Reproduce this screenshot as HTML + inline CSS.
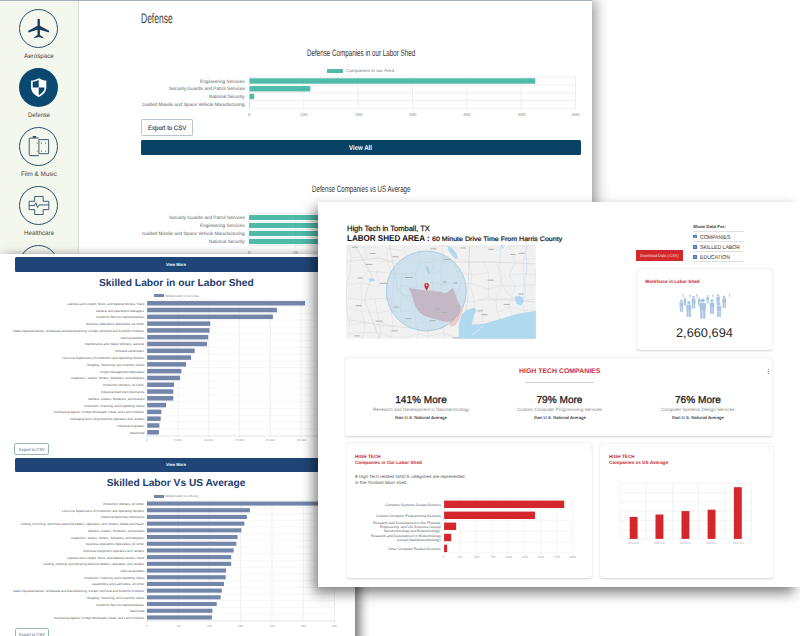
<!DOCTYPE html><html><head><meta charset="utf-8"><style>
*{margin:0;padding:0;box-sizing:border-box}
html,body{width:800px;height:636px;overflow:hidden;background:#fff;font-family:"Liberation Sans",sans-serif}
.ab{position:absolute}
.t{position:absolute;white-space:nowrap;line-height:1;text-rendering:geometricPrecision;opacity:0.995}
.shot{position:absolute;background:#fff;overflow:hidden}
.cond{display:inline-block;transform-origin:0 0}
.lbl{position:absolute;white-space:nowrap;line-height:1;text-align:right;color:#666}
</style></head><body>
<div class="shot" style="left:0;top:0;width:592px;height:420px;box-shadow:4px 0 12px rgba(0,0,0,0.4)"><div class="ab" style="left:0;top:0;width:592px;height:1px;background:#a3b0bb;z-index:2"></div><div class="ab" style="left:0;top:0;width:79px;height:420px;background:#f4f7ee;border-right:1px solid #dcddd5"></div><div class="ab" style="left:19.200000000000003px;top:8.8px;width:39px;height:39px;border-radius:50%;border:1px solid #2d4d6b"></div><div class="ab" style="left:19.200000000000003px;top:67.9px;width:39px;height:39px;border-radius:50%;background:#0b4870"></div><div class="ab" style="left:19.200000000000003px;top:126.9px;width:39px;height:39px;border-radius:50%;border:1px solid #2d4d6b"></div><div class="ab" style="left:19.200000000000003px;top:186.0px;width:39px;height:39px;border-radius:50%;border:1px solid #2d4d6b"></div><div class="ab" style="left:19.200000000000003px;top:245.10000000000002px;width:39px;height:39px;border-radius:50%;border:1px solid #2d4d6b"></div><div class="t" style="left:24.02px;top:53.55px;font-size:10px;color:#444;transform:scale(0.6223,0.6400);transform-origin:0 0;">Aerospace</div><div class="t" style="left:28.00px;top:112.80px;font-size:10px;color:#444;transform:scale(0.5907,0.6400);transform-origin:0 0;">Defense</div><div class="t" style="left:21.10px;top:171.75px;font-size:10px;color:#444;transform:scale(0.6257,0.6400);transform-origin:0 0;">Film &amp; Music</div><div class="t" style="left:23.80px;top:230.65px;font-size:10px;color:#444;transform:scale(0.6225,0.6400);transform-origin:0 0;">Healthcare</div><svg class="ab" style="left:0;top:0" width="80" height="260" viewBox="0 0 80 260">
<path fill="#1d3d5c" d="M38.7,18.8 c0.9,0 1.2,0.8 1.2,1.5 v5.5 l9.2,4.9 v1.7 l-9.2,-2.6 v5.2 l3.3,2.2 v1.1 l-4.5,-1.2 l-4.5,1.2 v-1.1 l3.3,-2.2 v-5.2 l-9.2,2.6 v-1.7 l9.2,-4.9 v-5.5 c0,-0.7 0.3,-1.5 1.2,-1.5 z"/>
<g>
<path d="M38.7 78.2 c3 1.6 5.5 2.3 7.6 2.3 v7 c0 4.5 -3.3 7.6 -7.6 9.5 c-4.3 -1.9 -7.6 -5 -7.6 -9.5 v-7 c2.1 0 4.6 -0.7 7.6 -2.3z" fill="#fff"/>
<path d="M38.7 80 v7.6 h-6 v-5.8 c2 -0.3 4 -0.9 6 -1.8z M38.7 87.6 h6 c-0.3 3.6 -2.8 6 -6 7.6z" fill="#0b4870"/>
</g>
<g fill="none" stroke="#2d4d6b" stroke-width="0.9">
<path d="M38.9,155.5 h-8.9 a0.8,0.8 0 0 1 -0.8,-0.8 v-15.8 a0.8,0.8 0 0 1 0.8,-0.8 h8.9"/>
<path d="M38.9,139.6 h9.7 v14.1 h-9.7 z"/>
</g>
<path d="M29.6,156.2 h9.2" stroke="#9aa6b0" stroke-width="0.6"/>
<rect x="32.7" y="136.1" width="3.5" height="1.6" fill="#1d3d5c"/>
<g fill="#555">
<circle cx="37.2" cy="143.1" r="0.55"/><circle cx="41.4" cy="143.1" r="0.55"/><circle cx="45.7" cy="143.1" r="0.55"/>
<circle cx="37.2" cy="151" r="0.55"/><circle cx="41.4" cy="151" r="0.55"/><circle cx="45.7" cy="151" r="0.55"/>
</g>
<g fill="none" stroke="#2d4d6b" stroke-width="0.9">
<path d="M34.65,196.5 h8.5 v4.8 h5.65 v8.3 h-5.65 v4.9 h-8.5 v-4.9 h-5.55 v-8.3 h5.55 z"/>
<path d="M29.2,205.5 h5.3 l1.4,-2.6 l1.7,4.6 l1.5,-2.6 h9.6"/>
</g>
</svg><div class="t" style="left:140.70px;top:11.84px;font-size:13.8px;color:#3a3a3a;transform:scaleX(0.6148);transform-origin:0 0;">Defense</div><div class="t" style="left:306.60px;top:47.63px;font-size:9.4px;color:#333;transform:scaleX(0.6677);transform-origin:0 0;">Defense Companies in our Labor Shed</div><div class="ab" style="left:327.4px;top:68.5px;width:16px;height:4.5px;background:#50bba9"></div><div class="t" style="left:346.00px;top:69.31px;font-size:10px;color:#777;transform:scale(0.4719,0.4400);transform-origin:0 0;">Companies in our Area</div><svg class="ab" style="left:0;top:0" width="592" height="300"><line x1="249.5" y1="77.2" x2="249.5" y2="110.2" stroke="#e4e4e4" stroke-width="0.6"/><line x1="303.8333333333333" y1="77.2" x2="303.8333333333333" y2="110.2" stroke="#e4e4e4" stroke-width="0.6"/><line x1="358.1666666666667" y1="77.2" x2="358.1666666666667" y2="110.2" stroke="#e4e4e4" stroke-width="0.6"/><line x1="412.5" y1="77.2" x2="412.5" y2="110.2" stroke="#e4e4e4" stroke-width="0.6"/><line x1="466.83333333333337" y1="77.2" x2="466.83333333333337" y2="110.2" stroke="#e4e4e4" stroke-width="0.6"/><line x1="521.1666666666667" y1="77.2" x2="521.1666666666667" y2="110.2" stroke="#e4e4e4" stroke-width="0.6"/><line x1="575.5" y1="77.2" x2="575.5" y2="110.2" stroke="#e4e4e4" stroke-width="0.6"/><line x1="249.5" y1="77.2" x2="575.5" y2="77.2" stroke="#e4e4e4" stroke-width="0.6"/><line x1="249.5" y1="84.95" x2="575.5" y2="84.95" stroke="#e4e4e4" stroke-width="0.6"/><line x1="249.5" y1="92.7" x2="575.5" y2="92.7" stroke="#e4e4e4" stroke-width="0.6"/><line x1="249.5" y1="100.45" x2="575.5" y2="100.45" stroke="#e4e4e4" stroke-width="0.6"/><line x1="249.5" y1="108.2" x2="575.5" y2="108.2" stroke="#e4e4e4" stroke-width="0.6"/><rect x="249.5" y="78.3" width="285.79333333333335" height="5.4" fill="#50bba9"/><rect x="249.5" y="86.05" width="60.85333333333333" height="5.4" fill="#50bba9"/><rect x="249.5" y="93.8" width="4.672666666666666" height="5.4" fill="#50bba9"/><rect x="249.5" y="101.55" width="0.326" height="5.4" fill="#50bba9"/><line x1="249" y1="213.5" x2="592" y2="213.5" stroke="#e4e4e4" stroke-width="0.6"/><line x1="249" y1="221.5" x2="592" y2="221.5" stroke="#e4e4e4" stroke-width="0.6"/><line x1="249" y1="229.5" x2="592" y2="229.5" stroke="#e4e4e4" stroke-width="0.6"/><line x1="249" y1="237.5" x2="592" y2="237.5" stroke="#e4e4e4" stroke-width="0.6"/><line x1="249" y1="245.5" x2="592" y2="245.5" stroke="#e4e4e4" stroke-width="0.6"/><line x1="249.0" y1="213.5" x2="249.0" y2="247" stroke="#e4e4e4" stroke-width="0.6"/><line x1="295.5" y1="213.5" x2="295.5" y2="247" stroke="#e4e4e4" stroke-width="0.6"/><line x1="342.0" y1="213.5" x2="342.0" y2="247" stroke="#e4e4e4" stroke-width="0.6"/><line x1="388.5" y1="213.5" x2="388.5" y2="247" stroke="#e4e4e4" stroke-width="0.6"/><rect x="249" y="215" width="200" height="5" fill="#50bba9"/><rect x="249" y="223" width="200" height="5" fill="#50bba9"/><rect x="249" y="231" width="200" height="5" fill="#50bba9"/><rect x="249" y="239" width="200" height="5" fill="#50bba9"/></svg><div class="t" style="left:200.40px;top:79.58px;font-size:10px;color:#5a5a5a;transform:scale(0.4720,0.4720);transform-origin:0 0;">Engineering Services</div><div class="t" style="left:168.93px;top:87.18px;font-size:10px;color:#5a5a5a;transform:scale(0.4720,0.4720);transform-origin:0 0;">Security Guards and Patrol Services</div><div class="t" style="left:209.32px;top:94.78px;font-size:10px;color:#5a5a5a;transform:scale(0.4720,0.4720);transform-origin:0 0;">National Security</div><div class="t" style="left:142.42px;top:102.98px;font-size:10px;color:#5a5a5a;transform:scale(0.4720,0.4720);transform-origin:0 0;">Guided Missile and Space Vehicle Manufacturing</div><div class="t" style="left:248.28px;top:113.41px;font-size:10px;color:#888;transform:scale(0.4400,0.4400);transform-origin:0 0;">0</div><div class="t" style="left:300.16px;top:113.41px;font-size:10px;color:#888;transform:scale(0.4400,0.4400);transform-origin:0 0;">100</div><div class="t" style="left:354.50px;top:113.41px;font-size:10px;color:#888;transform:scale(0.4400,0.4400);transform-origin:0 0;">200</div><div class="t" style="left:408.83px;top:113.41px;font-size:10px;color:#888;transform:scale(0.4400,0.4400);transform-origin:0 0;">300</div><div class="t" style="left:463.16px;top:113.41px;font-size:10px;color:#888;transform:scale(0.4400,0.4400);transform-origin:0 0;">400</div><div class="t" style="left:517.50px;top:113.41px;font-size:10px;color:#888;transform:scale(0.4400,0.4400);transform-origin:0 0;">500</div><div class="t" style="left:571.83px;top:113.41px;font-size:10px;color:#888;transform:scale(0.4400,0.4400);transform-origin:0 0;">600</div><div class="t" style="left:168.93px;top:216.28px;font-size:10px;color:#5a5a5a;transform:scale(0.4720,0.4720);transform-origin:0 0;">Security Guards and Patrol Services</div><div class="t" style="left:200.40px;top:224.28px;font-size:10px;color:#5a5a5a;transform:scale(0.4720,0.4720);transform-origin:0 0;">Engineering Services</div><div class="t" style="left:142.42px;top:232.28px;font-size:10px;color:#5a5a5a;transform:scale(0.4720,0.4720);transform-origin:0 0;">Guided Missile and Space Vehicle Manufacturing</div><div class="t" style="left:209.32px;top:240.28px;font-size:10px;color:#5a5a5a;transform:scale(0.4720,0.4720);transform-origin:0 0;">National Security</div><div class="t" style="left:247.78px;top:250.61px;font-size:10px;color:#888;transform:scale(0.4400,0.4400);transform-origin:0 0;">0</div><div class="t" style="left:293.05px;top:250.61px;font-size:10px;color:#888;transform:scale(0.4400,0.4400);transform-origin:0 0;">20</div><div class="t" style="left:339.55px;top:250.61px;font-size:10px;color:#888;transform:scale(0.4400,0.4400);transform-origin:0 0;">40</div><div class="ab" style="left:140.9px;top:119.4px;width:51.9px;height:16.5px;border:1px solid #b9c4cc;border-radius:1.5px"></div><div class="t" style="left:147.75px;top:124.98px;font-size:10px;color:#22384f;transform:scale(0.6037,0.6500);transform-origin:0 0;-webkit-text-stroke:0.2px #22384f;">Export to CSV</div><div class="ab" style="left:141px;top:140.2px;width:440px;height:14.8px;background:#084267;border-radius:1.5px"></div><div class="t" style="left:349.00px;top:144.82px;font-size:10px;color:#fff;font-weight:bold;transform:scale(0.6086,0.7000);transform-origin:0 0;">View All</div><div class="t" style="left:311.60px;top:185.17px;font-size:9.2px;color:#333;transform:scaleX(0.6726);transform-origin:0 0;">Defense Companies vs US Average</div></div><div class="shot" style="left:0;top:254.3px;width:355px;height:400px;box-shadow:5px 2px 10px rgba(0,0,0,0.55)"><div class="ab" style="left:14.7px;top:3.0px;width:330px;height:14.4px;background:#1f4576;border-radius:1.5px"></div><div class="t" style="left:165.90px;top:8.75px;font-size:10px;color:#fff;font-weight:bold;transform:scale(0.4039,0.4500);transform-origin:0 0;">View More</div><div class="t" style="left:98.80px;top:24.51px;font-size:10.2px;color:#213d71;font-weight:bold;transform:scaleX(1.0056);transform-origin:0 0;">Skilled Labor in our Labor Shed</div><div class="ab" style="left:154px;top:39.69999999999999px;width:10px;height:3.5px;background:#7386aa"></div><div class="t" style="left:165.20px;top:40.55px;font-size:10px;color:#888;transform:scale(0.3100,0.3100);transform-origin:0 0;">Skilled Labor in our Area</div><svg class="ab" style="left:0;top:0" width="355" height="400"><line x1="147.2" y1="45.80000000000001" x2="147.2" y2="184.09999999999997" stroke="#e6e6e6" stroke-width="0.6"/><line x1="178.0" y1="45.80000000000001" x2="178.0" y2="184.09999999999997" stroke="#e6e6e6" stroke-width="0.6"/><line x1="208.79999999999998" y1="45.80000000000001" x2="208.79999999999998" y2="184.09999999999997" stroke="#e6e6e6" stroke-width="0.6"/><line x1="239.6" y1="45.80000000000001" x2="239.6" y2="184.09999999999997" stroke="#e6e6e6" stroke-width="0.6"/><line x1="270.4" y1="45.80000000000001" x2="270.4" y2="184.09999999999997" stroke="#e6e6e6" stroke-width="0.6"/><line x1="301.2" y1="45.80000000000001" x2="301.2" y2="184.09999999999997" stroke="#e6e6e6" stroke-width="0.6"/><line x1="332.0" y1="45.80000000000001" x2="332.0" y2="184.09999999999997" stroke="#e6e6e6" stroke-width="0.6"/><line x1="147.2" y1="45.80000000000001" x2="332.0" y2="45.80000000000001" stroke="#efefef" stroke-width="0.5"/><line x1="147.2" y1="52.59000000000001" x2="332.0" y2="52.59000000000001" stroke="#efefef" stroke-width="0.5"/><line x1="147.2" y1="59.38000000000001" x2="332.0" y2="59.38000000000001" stroke="#efefef" stroke-width="0.5"/><line x1="147.2" y1="66.17000000000002" x2="332.0" y2="66.17000000000002" stroke="#efefef" stroke-width="0.5"/><line x1="147.2" y1="72.96000000000001" x2="332.0" y2="72.96000000000001" stroke="#efefef" stroke-width="0.5"/><line x1="147.2" y1="79.75000000000001" x2="332.0" y2="79.75000000000001" stroke="#efefef" stroke-width="0.5"/><line x1="147.2" y1="86.54000000000002" x2="332.0" y2="86.54000000000002" stroke="#efefef" stroke-width="0.5"/><line x1="147.2" y1="93.33000000000001" x2="332.0" y2="93.33000000000001" stroke="#efefef" stroke-width="0.5"/><line x1="147.2" y1="100.12" x2="332.0" y2="100.12" stroke="#efefef" stroke-width="0.5"/><line x1="147.2" y1="106.91000000000001" x2="332.0" y2="106.91000000000001" stroke="#efefef" stroke-width="0.5"/><line x1="147.2" y1="113.70000000000002" x2="332.0" y2="113.70000000000002" stroke="#efefef" stroke-width="0.5"/><line x1="147.2" y1="120.49000000000001" x2="332.0" y2="120.49000000000001" stroke="#efefef" stroke-width="0.5"/><line x1="147.2" y1="127.28000000000002" x2="332.0" y2="127.28000000000002" stroke="#efefef" stroke-width="0.5"/><line x1="147.2" y1="134.07" x2="332.0" y2="134.07" stroke="#efefef" stroke-width="0.5"/><line x1="147.2" y1="140.86" x2="332.0" y2="140.86" stroke="#efefef" stroke-width="0.5"/><line x1="147.2" y1="147.65" x2="332.0" y2="147.65" stroke="#efefef" stroke-width="0.5"/><line x1="147.2" y1="154.44" x2="332.0" y2="154.44" stroke="#efefef" stroke-width="0.5"/><line x1="147.2" y1="161.23000000000002" x2="332.0" y2="161.23000000000002" stroke="#efefef" stroke-width="0.5"/><line x1="147.2" y1="168.02" x2="332.0" y2="168.02" stroke="#efefef" stroke-width="0.5"/><line x1="147.2" y1="174.81" x2="332.0" y2="174.81" stroke="#efefef" stroke-width="0.5"/><line x1="147.2" y1="181.60000000000002" x2="332.0" y2="181.60000000000002" stroke="#efefef" stroke-width="0.5"/><line x1="147.2" y1="182.09999999999997" x2="332.0" y2="182.09999999999997" stroke="#dddddd" stroke-width="0.6"/><rect x="147.2" y="47.0" width="157.90000000000003" height="4.5" fill="#7386aa"/><rect x="147.2" y="53.79000000000002" width="129.7" height="4.5" fill="#7386aa"/><rect x="147.2" y="60.579999999999984" width="125.69999999999999" height="4.5" fill="#7386aa"/><rect x="147.2" y="67.37" width="63.10000000000002" height="4.5" fill="#7386aa"/><rect x="147.2" y="74.16000000000003" width="62.400000000000006" height="4.5" fill="#7386aa"/><rect x="147.2" y="80.94999999999999" width="61.0" height="4.5" fill="#7386aa"/><rect x="147.2" y="87.74000000000001" width="59.70000000000002" height="4.5" fill="#7386aa"/><rect x="147.2" y="94.53000000000003" width="47.5" height="4.5" fill="#7386aa"/><rect x="147.2" y="101.32" width="43.900000000000006" height="4.5" fill="#7386aa"/><rect x="147.2" y="108.11000000000001" width="38.80000000000001" height="4.5" fill="#7386aa"/><rect x="147.2" y="114.90000000000003" width="34.20000000000002" height="4.5" fill="#7386aa"/><rect x="147.2" y="121.69" width="32.900000000000006" height="4.5" fill="#7386aa"/><rect x="147.2" y="128.48000000000002" width="26.80000000000001" height="4.5" fill="#7386aa"/><rect x="147.2" y="135.26999999999998" width="26.100000000000023" height="4.5" fill="#7386aa"/><rect x="147.2" y="142.06" width="26.100000000000023" height="4.5" fill="#7386aa"/><rect x="147.2" y="148.84999999999997" width="18.900000000000006" height="4.5" fill="#7386aa"/><rect x="147.2" y="155.64" width="14.200000000000017" height="4.5" fill="#7386aa"/><rect x="147.2" y="162.43" width="13.5" height="4.5" fill="#7386aa"/><rect x="147.2" y="169.21999999999997" width="12.200000000000017" height="4.5" fill="#7386aa"/><rect x="147.2" y="176.01" width="11.700000000000017" height="4.5" fill="#7386aa"/><line x1="147.0" y1="246.2" x2="147.0" y2="368.7" stroke="#e6e6e6" stroke-width="0.6"/><line x1="178.25" y1="246.2" x2="178.25" y2="368.7" stroke="#e6e6e6" stroke-width="0.6"/><line x1="209.5" y1="246.2" x2="209.5" y2="368.7" stroke="#e6e6e6" stroke-width="0.6"/><line x1="240.75" y1="246.2" x2="240.75" y2="368.7" stroke="#e6e6e6" stroke-width="0.6"/><line x1="272.0" y1="246.2" x2="272.0" y2="368.7" stroke="#e6e6e6" stroke-width="0.6"/><line x1="303.25" y1="246.2" x2="303.25" y2="368.7" stroke="#e6e6e6" stroke-width="0.6"/><line x1="334.5" y1="246.2" x2="334.5" y2="368.7" stroke="#e6e6e6" stroke-width="0.6"/><line x1="147.0" y1="246.2" x2="334.5" y2="246.2" stroke="#efefef" stroke-width="0.5"/><line x1="147.0" y1="252.89999999999998" x2="334.5" y2="252.89999999999998" stroke="#efefef" stroke-width="0.5"/><line x1="147.0" y1="259.59999999999997" x2="334.5" y2="259.59999999999997" stroke="#efefef" stroke-width="0.5"/><line x1="147.0" y1="266.3" x2="334.5" y2="266.3" stroke="#efefef" stroke-width="0.5"/><line x1="147.0" y1="273.0" x2="334.5" y2="273.0" stroke="#efefef" stroke-width="0.5"/><line x1="147.0" y1="279.7" x2="334.5" y2="279.7" stroke="#efefef" stroke-width="0.5"/><line x1="147.0" y1="286.4" x2="334.5" y2="286.4" stroke="#efefef" stroke-width="0.5"/><line x1="147.0" y1="293.09999999999997" x2="334.5" y2="293.09999999999997" stroke="#efefef" stroke-width="0.5"/><line x1="147.0" y1="299.8" x2="334.5" y2="299.8" stroke="#efefef" stroke-width="0.5"/><line x1="147.0" y1="306.5" x2="334.5" y2="306.5" stroke="#efefef" stroke-width="0.5"/><line x1="147.0" y1="313.2" x2="334.5" y2="313.2" stroke="#efefef" stroke-width="0.5"/><line x1="147.0" y1="319.9" x2="334.5" y2="319.9" stroke="#efefef" stroke-width="0.5"/><line x1="147.0" y1="326.6" x2="334.5" y2="326.6" stroke="#efefef" stroke-width="0.5"/><line x1="147.0" y1="333.3" x2="334.5" y2="333.3" stroke="#efefef" stroke-width="0.5"/><line x1="147.0" y1="340.0" x2="334.5" y2="340.0" stroke="#efefef" stroke-width="0.5"/><line x1="147.0" y1="346.7" x2="334.5" y2="346.7" stroke="#efefef" stroke-width="0.5"/><line x1="147.0" y1="353.4" x2="334.5" y2="353.4" stroke="#efefef" stroke-width="0.5"/><line x1="147.0" y1="360.1" x2="334.5" y2="360.1" stroke="#efefef" stroke-width="0.5"/><line x1="147.0" y1="366.8" x2="334.5" y2="366.8" stroke="#efefef" stroke-width="0.5"/><line x1="147.0" y1="366.7" x2="334.5" y2="366.7" stroke="#dddddd" stroke-width="0.6"/><rect x="147.0" y="247.5" width="183.0" height="4.1" fill="#7386aa"/><rect x="147.0" y="254.2" width="102.9" height="4.1" fill="#7386aa"/><rect x="147.0" y="260.90000000000003" width="99.9" height="4.1" fill="#7386aa"/><rect x="147.0" y="267.59999999999997" width="97.4" height="4.1" fill="#7386aa"/><rect x="147.0" y="274.3" width="94.4" height="4.1" fill="#7386aa"/><rect x="147.0" y="280.99999999999994" width="90.6" height="4.1" fill="#7386aa"/><rect x="147.0" y="287.7" width="89.30000000000001" height="4.1" fill="#7386aa"/><rect x="147.0" y="294.40000000000003" width="86.69999999999999" height="4.1" fill="#7386aa"/><rect x="147.0" y="301.09999999999997" width="84.19999999999999" height="4.1" fill="#7386aa"/><rect x="147.0" y="307.8" width="84.19999999999999" height="4.1" fill="#7386aa"/><rect x="147.0" y="314.49999999999994" width="79.1" height="4.1" fill="#7386aa"/><rect x="147.0" y="321.2" width="78.69999999999999" height="4.1" fill="#7386aa"/><rect x="147.0" y="327.90000000000003" width="77.0" height="4.1" fill="#7386aa"/><rect x="147.0" y="334.59999999999997" width="74.80000000000001" height="4.1" fill="#7386aa"/><rect x="147.0" y="341.3" width="73.6" height="4.1" fill="#7386aa"/><rect x="147.0" y="347.99999999999994" width="69.69999999999999" height="4.1" fill="#7386aa"/><rect x="147.0" y="354.7" width="65.4" height="4.1" fill="#7386aa"/><rect x="147.0" y="361.40000000000003" width="64.9" height="4.1" fill="#7386aa"/></svg><div class="t" style="left:67.01px;top:48.43px;font-size:10px;color:#5c5c5c;transform:scale(0.3100,0.3100);transform-origin:0 0;">Laborers and Freight, Stock, and Material Movers, Hand</div><div class="t" style="left:96.47px;top:55.22px;font-size:10px;color:#5c5c5c;transform:scale(0.3100,0.3100);transform-origin:0 0;">General and Operations Managers</div><div class="t" style="left:96.31px;top:62.01px;font-size:10px;color:#5c5c5c;transform:scale(0.3100,0.3100);transform-origin:0 0;">Customer Service Representatives</div><div class="t" style="left:86.31px;top:68.80px;font-size:10px;color:#5c5c5c;transform:scale(0.3100,0.3100);transform-origin:0 0;">Business Operations Specialists, All Other</div><div class="t" style="left:13.13px;top:75.59px;font-size:10px;color:#5c5c5c;transform:scale(0.3100,0.3100);transform-origin:0 0;">Sales Representatives, Wholesale and Manufacturing, Except Technical and Scientific Products</div><div class="t" style="left:119.74px;top:82.38px;font-size:10px;color:#5c5c5c;transform:scale(0.3100,0.3100);transform-origin:0 0;">Team Assemblers</div><div class="t" style="left:85.33px;top:89.17px;font-size:10px;color:#5c5c5c;transform:scale(0.3100,0.3100);transform-origin:0 0;">Maintenance and Repair Workers, General</div><div class="t" style="left:115.43px;top:95.96px;font-size:10px;color:#5c5c5c;transform:scale(0.3100,0.3100);transform-origin:0 0;">Software Developers</div><div class="t" style="left:62.08px;top:102.75px;font-size:10px;color:#5c5c5c;transform:scale(0.3100,0.3100);transform-origin:0 0;">First-Line Supervisors of Production and Operating Workers</div><div class="t" style="left:86.65px;top:109.54px;font-size:10px;color:#5c5c5c;transform:scale(0.3100,0.3100);transform-origin:0 0;">Shipping, Receiving, and Inventory Clerks</div><div class="t" style="left:99.92px;top:116.33px;font-size:10px;color:#5c5c5c;transform:scale(0.3100,0.3100);transform-origin:0 0;">Project Management Specialists</div><div class="t" style="left:70.92px;top:123.12px;font-size:10px;color:#5c5c5c;transform:scale(0.3100,0.3100);transform-origin:0 0;">Inspectors, Testers, Sorters, Samplers, and Weighers</div><div class="t" style="left:103.43px;top:129.91px;font-size:10px;color:#5c5c5c;transform:scale(0.3100,0.3100);transform-origin:0 0;">Production Workers, All Other</div><div class="t" style="left:100.78px;top:136.70px;font-size:10px;color:#5c5c5c;transform:scale(0.3100,0.3100);transform-origin:0 0;">Industrial Machinery Mechanics</div><div class="t" style="left:87.75px;top:143.49px;font-size:10px;color:#5c5c5c;transform:scale(0.3100,0.3100);transform-origin:0 0;">Welders, Cutters, Solderers, and Brazers</div><div class="t" style="left:83.72px;top:150.28px;font-size:10px;color:#5c5c5c;transform:scale(0.3100,0.3100);transform-origin:0 0;">Production, Planning, and Expediting Clerks</div><div class="t" style="left:54.09px;top:157.07px;font-size:10px;color:#5c5c5c;transform:scale(0.3100,0.3100);transform-origin:0 0;">Purchasing Agents, Except Wholesale, Retail, and Farm Products</div><div class="t" style="left:69.65px;top:163.86px;font-size:10px;color:#5c5c5c;transform:scale(0.3100,0.3100);transform-origin:0 0;">Packaging and Filling Machine Operators and Tenders</div><div class="t" style="left:116.80px;top:170.65px;font-size:10px;color:#5c5c5c;transform:scale(0.3100,0.3100);transform-origin:0 0;">Industrial Engineers</div><div class="t" style="left:129.56px;top:177.44px;font-size:10px;color:#5c5c5c;transform:scale(0.3100,0.3100);transform-origin:0 0;">Machinists</div><div class="t" style="left:146.37px;top:185.13px;font-size:10px;color:#999;transform:scale(0.3000,0.3000);transform-origin:0 0;">0</div><div class="t" style="left:174.25px;top:185.13px;font-size:10px;color:#999;transform:scale(0.3000,0.3000);transform-origin:0 0;">5,000</div><div class="t" style="left:204.21px;top:185.13px;font-size:10px;color:#999;transform:scale(0.3000,0.3000);transform-origin:0 0;">10,000</div><div class="t" style="left:235.01px;top:185.13px;font-size:10px;color:#999;transform:scale(0.3000,0.3000);transform-origin:0 0;">15,000</div><div class="t" style="left:265.81px;top:185.13px;font-size:10px;color:#999;transform:scale(0.3000,0.3000);transform-origin:0 0;">20,000</div><div class="t" style="left:296.61px;top:185.13px;font-size:10px;color:#999;transform:scale(0.3000,0.3000);transform-origin:0 0;">25,000</div><div class="t" style="left:327.41px;top:185.13px;font-size:10px;color:#999;transform:scale(0.3000,0.3000);transform-origin:0 0;">30,000</div><div class="ab" style="left:14.4px;top:189.09999999999997px;width:35px;height:11.2px;border:1px solid #9bb5bf;border-radius:2px"></div><div class="t" style="left:19.00px;top:193.51px;font-size:10px;color:#4a6378;transform:scale(0.4041,0.4400);transform-origin:0 0;">Export to CSV</div><div class="ab" style="left:14.7px;top:203.3px;width:330px;height:14.2px;background:#1f4576;border-radius:1.5px"></div><div class="t" style="left:165.90px;top:209.05px;font-size:10px;color:#fff;font-weight:bold;transform:scale(0.4039,0.4500);transform-origin:0 0;">View More</div><div class="t" style="left:106.80px;top:224.51px;font-size:10.2px;color:#213d71;font-weight:bold;">Skilled Labor Vs US Average</div><div class="ab" style="left:154px;top:240.3px;width:10px;height:3.5px;background:#7386aa"></div><div class="t" style="left:165.20px;top:241.15px;font-size:10px;color:#888;transform:scale(0.3100,0.3100);transform-origin:0 0;">Skilled Labor vs US Avg</div><div class="t" style="left:103.43px;top:248.73px;font-size:10px;color:#5c5c5c;transform:scale(0.3100,0.3100);transform-origin:0 0;">Production Workers, All Other</div><div class="t" style="left:62.08px;top:255.43px;font-size:10px;color:#5c5c5c;transform:scale(0.3100,0.3100);transform-origin:0 0;">First-Line Supervisors of Production and Operating Workers</div><div class="t" style="left:100.78px;top:262.13px;font-size:10px;color:#5c5c5c;transform:scale(0.3100,0.3100);transform-origin:0 0;">Industrial Machinery Mechanics</div><div class="t" style="left:21.23px;top:268.83px;font-size:10px;color:#5c5c5c;transform:scale(0.3100,0.3100);transform-origin:0 0;">Cutting, Punching, and Press Machine Setters, Operators, and Tenders, Metal and Plastic</div><div class="t" style="left:87.75px;top:275.53px;font-size:10px;color:#5c5c5c;transform:scale(0.3100,0.3100);transform-origin:0 0;">Welders, Cutters, Solderers, and Brazers</div><div class="t" style="left:70.92px;top:282.23px;font-size:10px;color:#5c5c5c;transform:scale(0.3100,0.3100);transform-origin:0 0;">Inspectors, Testers, Sorters, Samplers, and Weighers</div><div class="t" style="left:86.31px;top:288.93px;font-size:10px;color:#5c5c5c;transform:scale(0.3100,0.3100);transform-origin:0 0;">Business Operations Specialists, All Other</div><div class="t" style="left:83.09px;top:295.63px;font-size:10px;color:#5c5c5c;transform:scale(0.3100,0.3100);transform-origin:0 0;">Chemical Equipment Operators and Tenders</div><div class="t" style="left:67.01px;top:302.33px;font-size:10px;color:#5c5c5c;transform:scale(0.3100,0.3100);transform-origin:0 0;">Laborers and Freight, Stock, and Material Movers, Hand</div><div class="t" style="left:43.11px;top:309.03px;font-size:10px;color:#5c5c5c;transform:scale(0.3100,0.3100);transform-origin:0 0;">Coating, Painting, and Spraying Machine Setters, Operators, and Tenders</div><div class="t" style="left:119.74px;top:315.73px;font-size:10px;color:#5c5c5c;transform:scale(0.3100,0.3100);transform-origin:0 0;">Team Assemblers</div><div class="t" style="left:83.72px;top:322.43px;font-size:10px;color:#5c5c5c;transform:scale(0.3100,0.3100);transform-origin:0 0;">Production, Planning, and Expediting Clerks</div><div class="t" style="left:92.00px;top:329.13px;font-size:10px;color:#5c5c5c;transform:scale(0.3100,0.3100);transform-origin:0 0;">Assemblers and Fabricators, All Other</div><div class="t" style="left:13.13px;top:335.83px;font-size:10px;color:#5c5c5c;transform:scale(0.3100,0.3100);transform-origin:0 0;">Sales Representatives, Wholesale and Manufacturing, Except Technical and Scientific Products</div><div class="t" style="left:86.65px;top:342.53px;font-size:10px;color:#5c5c5c;transform:scale(0.3100,0.3100);transform-origin:0 0;">Shipping, Receiving, and Inventory Clerks</div><div class="t" style="left:96.31px;top:349.23px;font-size:10px;color:#5c5c5c;transform:scale(0.3100,0.3100);transform-origin:0 0;">Customer Service Representatives</div><div class="t" style="left:129.56px;top:355.93px;font-size:10px;color:#5c5c5c;transform:scale(0.3100,0.3100);transform-origin:0 0;">Machinists</div><div class="t" style="left:54.09px;top:362.63px;font-size:10px;color:#5c5c5c;transform:scale(0.3100,0.3100);transform-origin:0 0;">Purchasing Agents, Except Wholesale, Retail, and Farm Products</div><div class="t" style="left:146.17px;top:370.33px;font-size:10px;color:#999;transform:scale(0.3000,0.3000);transform-origin:0 0;">0</div><div class="t" style="left:176.58px;top:370.33px;font-size:10px;color:#999;transform:scale(0.3000,0.3000);transform-origin:0 0;">50</div><div class="t" style="left:207.00px;top:370.33px;font-size:10px;color:#999;transform:scale(0.3000,0.3000);transform-origin:0 0;">100</div><div class="t" style="left:238.25px;top:370.33px;font-size:10px;color:#999;transform:scale(0.3000,0.3000);transform-origin:0 0;">150</div><div class="t" style="left:269.50px;top:370.33px;font-size:10px;color:#999;transform:scale(0.3000,0.3000);transform-origin:0 0;">200</div><div class="t" style="left:300.75px;top:370.33px;font-size:10px;color:#999;transform:scale(0.3000,0.3000);transform-origin:0 0;">250</div><div class="t" style="left:332.00px;top:370.33px;font-size:10px;color:#999;transform:scale(0.3000,0.3000);transform-origin:0 0;">300</div><div class="ab" style="left:14.5px;top:374.2px;width:34.7px;height:11.2px;border:1px solid #9bb5bf;border-radius:2px"></div><div class="t" style="left:19.00px;top:378.61px;font-size:10px;color:#4a6378;transform:scale(0.4041,0.4400);transform-origin:0 0;">Export to CSV</div></div><div class="shot" style="left:318px;top:202px;width:480px;height:384.70000000000005px;box-shadow:-4px 6px 12px rgba(0,0,0,0.5)"><div class="t" style="left:28.75px;top:22.85px;font-size:7.6px;color:#1a1a1a;transform:scaleX(0.9912);transform-origin:0 0;-webkit-text-stroke:0.25px #1a1a1a;">High Tech in Tomball, TX</div><div class="t" style="left:28.75px;top:31.52px;font-size:8.5px;color:#111;font-weight:bold;transform:scaleX(0.9472);transform-origin:0 0;">LABOR SHED AREA :</div><div class="t" style="left:114.00px;top:34.75px;font-size:10px;color:#1a1a1a;transform:scale(0.7058,0.6400);transform-origin:0 0;-webkit-text-stroke:0.35px #1a1a1a;">60 Minute Drive Time From Harris County</div><svg class="ab" style="left:28.399999999999977px;top:43.099999999999994px;border-radius:1px" width="189.8" height="93.6" viewBox="346.4 245.1 189.8 93.6"><rect x="346.4" y="245.1" width="189.8" height="93.6" fill="#f1f1f1"/><line x1="349.0" y1="245.7" x2="364.5" y2="247.4" stroke="#d6d6d6" stroke-width="0.4"/><line x1="349.0" y1="245.7" x2="351.6" y2="257.6" stroke="#d6d6d6" stroke-width="0.4"/><line x1="351.6" y1="257.6" x2="367.7" y2="257.4" stroke="#d6d6d6" stroke-width="0.4"/><line x1="351.6" y1="257.6" x2="350.7" y2="272.2" stroke="#d6d6d6" stroke-width="0.4"/><line x1="350.7" y1="272.2" x2="346.9" y2="285.7" stroke="#d6d6d6" stroke-width="0.4"/><line x1="346.9" y1="285.7" x2="361.1" y2="282.9" stroke="#d6d6d6" stroke-width="0.4"/><line x1="346.9" y1="285.7" x2="346.7" y2="297.6" stroke="#d6d6d6" stroke-width="0.4"/><line x1="346.7" y1="297.6" x2="362.4" y2="300.3" stroke="#d6d6d6" stroke-width="0.4"/><line x1="346.7" y1="297.6" x2="347.0" y2="307.7" stroke="#d6d6d6" stroke-width="0.4"/><line x1="347.0" y1="307.7" x2="361.3" y2="311.2" stroke="#d6d6d6" stroke-width="0.4"/><line x1="347.0" y1="307.7" x2="349.8" y2="325.4" stroke="#d6d6d6" stroke-width="0.4"/><line x1="349.8" y1="325.4" x2="365.0" y2="322.2" stroke="#d6d6d6" stroke-width="0.4"/><line x1="347.4" y1="333.7" x2="364.3" y2="332.5" stroke="#d6d6d6" stroke-width="0.4"/><line x1="364.5" y1="247.4" x2="378.8" y2="247.6" stroke="#d6d6d6" stroke-width="0.4"/><line x1="364.5" y1="247.4" x2="367.7" y2="257.4" stroke="#d6d6d6" stroke-width="0.4"/><line x1="366.8" y1="271.6" x2="377.0" y2="271.7" stroke="#d6d6d6" stroke-width="0.4"/><line x1="366.8" y1="271.6" x2="361.1" y2="282.9" stroke="#d6d6d6" stroke-width="0.4"/><line x1="361.1" y1="282.9" x2="379.8" y2="287.0" stroke="#d6d6d6" stroke-width="0.4"/><line x1="361.1" y1="282.9" x2="362.4" y2="300.3" stroke="#d6d6d6" stroke-width="0.4"/><line x1="362.4" y1="300.3" x2="375.4" y2="298.6" stroke="#d6d6d6" stroke-width="0.4"/><line x1="362.4" y1="300.3" x2="361.3" y2="311.2" stroke="#d6d6d6" stroke-width="0.4"/><line x1="361.3" y1="311.2" x2="377.6" y2="313.2" stroke="#d6d6d6" stroke-width="0.4"/><line x1="361.3" y1="311.2" x2="365.0" y2="322.2" stroke="#d6d6d6" stroke-width="0.4"/><line x1="365.0" y1="322.2" x2="364.3" y2="332.5" stroke="#d6d6d6" stroke-width="0.4"/><line x1="364.3" y1="332.5" x2="381.2" y2="332.9" stroke="#d6d6d6" stroke-width="0.4"/><line x1="364.3" y1="332.5" x2="360.4" y2="346.0" stroke="#d6d6d6" stroke-width="0.4"/><line x1="360.4" y1="346.0" x2="376.7" y2="349.9" stroke="#d6d6d6" stroke-width="0.4"/><line x1="375.9" y1="261.2" x2="387.2" y2="261.8" stroke="#d6d6d6" stroke-width="0.4"/><line x1="377.0" y1="271.7" x2="393.0" y2="273.6" stroke="#d6d6d6" stroke-width="0.4"/><line x1="377.0" y1="271.7" x2="379.8" y2="287.0" stroke="#d6d6d6" stroke-width="0.4"/><line x1="375.4" y1="298.6" x2="392.5" y2="298.8" stroke="#d6d6d6" stroke-width="0.4"/><line x1="375.4" y1="298.6" x2="377.6" y2="313.2" stroke="#d6d6d6" stroke-width="0.4"/><line x1="377.6" y1="313.2" x2="391.5" y2="310.3" stroke="#d6d6d6" stroke-width="0.4"/><line x1="377.6" y1="313.2" x2="379.2" y2="321.6" stroke="#d6d6d6" stroke-width="0.4"/><line x1="379.2" y1="321.6" x2="393.6" y2="326.2" stroke="#d6d6d6" stroke-width="0.4"/><line x1="379.2" y1="321.6" x2="381.2" y2="332.9" stroke="#d6d6d6" stroke-width="0.4"/><line x1="381.2" y1="332.9" x2="390.7" y2="336.7" stroke="#d6d6d6" stroke-width="0.4"/><line x1="381.2" y1="332.9" x2="376.7" y2="349.9" stroke="#d6d6d6" stroke-width="0.4"/><line x1="376.7" y1="349.9" x2="387.4" y2="349.5" stroke="#d6d6d6" stroke-width="0.4"/><line x1="388.1" y1="248.0" x2="405.6" y2="251.6" stroke="#d6d6d6" stroke-width="0.4"/><line x1="388.1" y1="248.0" x2="387.2" y2="261.8" stroke="#d6d6d6" stroke-width="0.4"/><line x1="387.2" y1="261.8" x2="407.0" y2="259.1" stroke="#d6d6d6" stroke-width="0.4"/><line x1="387.2" y1="261.8" x2="393.0" y2="273.6" stroke="#d6d6d6" stroke-width="0.4"/><line x1="393.0" y1="273.6" x2="403.5" y2="274.3" stroke="#d6d6d6" stroke-width="0.4"/><line x1="393.0" y1="273.6" x2="393.9" y2="284.3" stroke="#d6d6d6" stroke-width="0.4"/><line x1="393.9" y1="284.3" x2="392.5" y2="298.8" stroke="#d6d6d6" stroke-width="0.4"/><line x1="392.5" y1="298.8" x2="391.5" y2="310.3" stroke="#d6d6d6" stroke-width="0.4"/><line x1="391.5" y1="310.3" x2="400.9" y2="312.5" stroke="#d6d6d6" stroke-width="0.4"/><line x1="391.5" y1="310.3" x2="393.6" y2="326.2" stroke="#d6d6d6" stroke-width="0.4"/><line x1="393.6" y1="326.2" x2="401.4" y2="321.3" stroke="#d6d6d6" stroke-width="0.4"/><line x1="393.6" y1="326.2" x2="390.7" y2="336.7" stroke="#d6d6d6" stroke-width="0.4"/><line x1="390.7" y1="336.7" x2="403.5" y2="338.2" stroke="#d6d6d6" stroke-width="0.4"/><line x1="390.7" y1="336.7" x2="387.4" y2="349.5" stroke="#d6d6d6" stroke-width="0.4"/><line x1="405.6" y1="251.6" x2="407.0" y2="259.1" stroke="#d6d6d6" stroke-width="0.4"/><line x1="407.0" y1="259.1" x2="420.5" y2="263.1" stroke="#d6d6d6" stroke-width="0.4"/><line x1="403.5" y1="274.3" x2="416.1" y2="272.5" stroke="#d6d6d6" stroke-width="0.4"/><line x1="403.5" y1="274.3" x2="400.6" y2="285.3" stroke="#d6d6d6" stroke-width="0.4"/><line x1="400.6" y1="285.3" x2="416.8" y2="288.3" stroke="#d6d6d6" stroke-width="0.4"/><line x1="400.6" y1="285.3" x2="401.7" y2="295.4" stroke="#d6d6d6" stroke-width="0.4"/><line x1="401.7" y1="295.4" x2="421.6" y2="295.7" stroke="#d6d6d6" stroke-width="0.4"/><line x1="401.7" y1="295.4" x2="400.9" y2="312.5" stroke="#d6d6d6" stroke-width="0.4"/><line x1="400.9" y1="312.5" x2="415.3" y2="308.7" stroke="#d6d6d6" stroke-width="0.4"/><line x1="401.4" y1="321.3" x2="415.8" y2="323.0" stroke="#d6d6d6" stroke-width="0.4"/><line x1="403.5" y1="338.2" x2="418.6" y2="333.9" stroke="#d6d6d6" stroke-width="0.4"/><line x1="401.0" y1="347.7" x2="413.9" y2="347.5" stroke="#d6d6d6" stroke-width="0.4"/><line x1="418.3" y1="250.8" x2="420.5" y2="263.1" stroke="#d6d6d6" stroke-width="0.4"/><line x1="420.5" y1="263.1" x2="435.0" y2="261.9" stroke="#d6d6d6" stroke-width="0.4"/><line x1="420.5" y1="263.1" x2="416.1" y2="272.5" stroke="#d6d6d6" stroke-width="0.4"/><line x1="416.1" y1="272.5" x2="416.8" y2="288.3" stroke="#d6d6d6" stroke-width="0.4"/><line x1="416.8" y1="288.3" x2="432.8" y2="282.5" stroke="#d6d6d6" stroke-width="0.4"/><line x1="416.8" y1="288.3" x2="421.6" y2="295.7" stroke="#d6d6d6" stroke-width="0.4"/><line x1="421.6" y1="295.7" x2="434.6" y2="300.1" stroke="#d6d6d6" stroke-width="0.4"/><line x1="421.6" y1="295.7" x2="415.3" y2="308.7" stroke="#d6d6d6" stroke-width="0.4"/><line x1="415.3" y1="308.7" x2="434.4" y2="312.7" stroke="#d6d6d6" stroke-width="0.4"/><line x1="415.3" y1="308.7" x2="415.8" y2="323.0" stroke="#d6d6d6" stroke-width="0.4"/><line x1="415.8" y1="323.0" x2="430.5" y2="322.4" stroke="#d6d6d6" stroke-width="0.4"/><line x1="415.8" y1="323.0" x2="418.6" y2="333.9" stroke="#d6d6d6" stroke-width="0.4"/><line x1="418.6" y1="333.9" x2="428.2" y2="336.5" stroke="#d6d6d6" stroke-width="0.4"/><line x1="418.6" y1="333.9" x2="413.9" y2="347.5" stroke="#d6d6d6" stroke-width="0.4"/><line x1="413.9" y1="347.5" x2="427.9" y2="345.1" stroke="#d6d6d6" stroke-width="0.4"/><line x1="430.4" y1="248.6" x2="442.6" y2="245.7" stroke="#d6d6d6" stroke-width="0.4"/><line x1="430.4" y1="248.6" x2="435.0" y2="261.9" stroke="#d6d6d6" stroke-width="0.4"/><line x1="435.0" y1="261.9" x2="443.6" y2="257.5" stroke="#d6d6d6" stroke-width="0.4"/><line x1="435.0" y1="261.9" x2="431.5" y2="273.9" stroke="#d6d6d6" stroke-width="0.4"/><line x1="431.5" y1="273.9" x2="440.9" y2="270.7" stroke="#d6d6d6" stroke-width="0.4"/><line x1="431.5" y1="273.9" x2="432.8" y2="282.5" stroke="#d6d6d6" stroke-width="0.4"/><line x1="432.8" y1="282.5" x2="441.7" y2="284.6" stroke="#d6d6d6" stroke-width="0.4"/><line x1="432.8" y1="282.5" x2="434.6" y2="300.1" stroke="#d6d6d6" stroke-width="0.4"/><line x1="434.6" y1="300.1" x2="441.1" y2="300.7" stroke="#d6d6d6" stroke-width="0.4"/><line x1="434.6" y1="300.1" x2="434.4" y2="312.7" stroke="#d6d6d6" stroke-width="0.4"/><line x1="434.4" y1="312.7" x2="430.5" y2="322.4" stroke="#d6d6d6" stroke-width="0.4"/><line x1="430.5" y1="322.4" x2="428.2" y2="336.5" stroke="#d6d6d6" stroke-width="0.4"/><line x1="428.2" y1="336.5" x2="443.8" y2="333.0" stroke="#d6d6d6" stroke-width="0.4"/><line x1="427.9" y1="345.1" x2="447.7" y2="351.6" stroke="#d6d6d6" stroke-width="0.4"/><line x1="442.6" y1="245.7" x2="458.1" y2="248.0" stroke="#d6d6d6" stroke-width="0.4"/><line x1="442.6" y1="245.7" x2="443.6" y2="257.5" stroke="#d6d6d6" stroke-width="0.4"/><line x1="443.6" y1="257.5" x2="440.9" y2="270.7" stroke="#d6d6d6" stroke-width="0.4"/><line x1="440.9" y1="270.7" x2="441.7" y2="284.6" stroke="#d6d6d6" stroke-width="0.4"/><line x1="441.7" y1="284.6" x2="461.0" y2="283.2" stroke="#d6d6d6" stroke-width="0.4"/><line x1="441.7" y1="284.6" x2="441.1" y2="300.7" stroke="#d6d6d6" stroke-width="0.4"/><line x1="441.1" y1="300.7" x2="454.6" y2="301.3" stroke="#d6d6d6" stroke-width="0.4"/><line x1="441.1" y1="300.7" x2="445.8" y2="308.1" stroke="#d6d6d6" stroke-width="0.4"/><line x1="445.8" y1="308.1" x2="458.6" y2="308.1" stroke="#d6d6d6" stroke-width="0.4"/><line x1="445.8" y1="308.1" x2="442.9" y2="322.0" stroke="#d6d6d6" stroke-width="0.4"/><line x1="442.9" y1="322.0" x2="458.7" y2="319.8" stroke="#d6d6d6" stroke-width="0.4"/><line x1="442.9" y1="322.0" x2="443.8" y2="333.0" stroke="#d6d6d6" stroke-width="0.4"/><line x1="443.8" y1="333.0" x2="458.6" y2="338.9" stroke="#d6d6d6" stroke-width="0.4"/><line x1="443.8" y1="333.0" x2="447.7" y2="351.6" stroke="#d6d6d6" stroke-width="0.4"/><line x1="458.1" y1="248.0" x2="455.1" y2="257.8" stroke="#d6d6d6" stroke-width="0.4"/><line x1="455.1" y1="257.8" x2="469.2" y2="262.5" stroke="#d6d6d6" stroke-width="0.4"/><line x1="455.1" y1="257.8" x2="457.1" y2="271.5" stroke="#d6d6d6" stroke-width="0.4"/><line x1="457.1" y1="271.5" x2="472.2" y2="275.1" stroke="#d6d6d6" stroke-width="0.4"/><line x1="457.1" y1="271.5" x2="461.0" y2="283.2" stroke="#d6d6d6" stroke-width="0.4"/><line x1="461.0" y1="283.2" x2="470.5" y2="283.7" stroke="#d6d6d6" stroke-width="0.4"/><line x1="461.0" y1="283.2" x2="454.6" y2="301.3" stroke="#d6d6d6" stroke-width="0.4"/><line x1="454.6" y1="301.3" x2="474.4" y2="301.5" stroke="#d6d6d6" stroke-width="0.4"/><line x1="458.6" y1="308.1" x2="458.7" y2="319.8" stroke="#d6d6d6" stroke-width="0.4"/><line x1="458.7" y1="319.8" x2="474.4" y2="324.8" stroke="#d6d6d6" stroke-width="0.4"/><line x1="458.6" y1="338.9" x2="469.7" y2="335.7" stroke="#d6d6d6" stroke-width="0.4"/><line x1="458.6" y1="338.9" x2="461.3" y2="349.5" stroke="#d6d6d6" stroke-width="0.4"/><line x1="461.3" y1="349.5" x2="470.7" y2="344.8" stroke="#d6d6d6" stroke-width="0.4"/><line x1="470.0" y1="247.2" x2="481.6" y2="246.6" stroke="#d6d6d6" stroke-width="0.4"/><line x1="470.0" y1="247.2" x2="469.2" y2="262.5" stroke="#d6d6d6" stroke-width="0.4"/><line x1="469.2" y1="262.5" x2="483.5" y2="261.9" stroke="#d6d6d6" stroke-width="0.4"/><line x1="469.2" y1="262.5" x2="472.2" y2="275.1" stroke="#d6d6d6" stroke-width="0.4"/><line x1="472.2" y1="275.1" x2="489.1" y2="272.7" stroke="#d6d6d6" stroke-width="0.4"/><line x1="472.2" y1="275.1" x2="470.5" y2="283.7" stroke="#d6d6d6" stroke-width="0.4"/><line x1="470.5" y1="283.7" x2="488.9" y2="289.0" stroke="#d6d6d6" stroke-width="0.4"/><line x1="470.5" y1="283.7" x2="474.4" y2="301.5" stroke="#d6d6d6" stroke-width="0.4"/><line x1="474.4" y1="301.5" x2="489.0" y2="297.2" stroke="#d6d6d6" stroke-width="0.4"/><line x1="474.4" y1="301.5" x2="474.7" y2="312.7" stroke="#d6d6d6" stroke-width="0.4"/><line x1="474.7" y1="312.7" x2="483.2" y2="308.7" stroke="#d6d6d6" stroke-width="0.4"/><line x1="474.7" y1="312.7" x2="474.4" y2="324.8" stroke="#d6d6d6" stroke-width="0.4"/><line x1="474.4" y1="324.8" x2="483.0" y2="321.0" stroke="#d6d6d6" stroke-width="0.4"/><line x1="474.4" y1="324.8" x2="469.7" y2="335.7" stroke="#d6d6d6" stroke-width="0.4"/><line x1="469.7" y1="335.7" x2="486.4" y2="338.4" stroke="#d6d6d6" stroke-width="0.4"/><line x1="469.7" y1="335.7" x2="470.7" y2="344.8" stroke="#d6d6d6" stroke-width="0.4"/><line x1="470.7" y1="344.8" x2="488.1" y2="348.0" stroke="#d6d6d6" stroke-width="0.4"/><line x1="481.6" y1="246.6" x2="500.1" y2="250.2" stroke="#d6d6d6" stroke-width="0.4"/><line x1="483.5" y1="261.9" x2="495.6" y2="261.7" stroke="#d6d6d6" stroke-width="0.4"/><line x1="483.5" y1="261.9" x2="489.1" y2="272.7" stroke="#d6d6d6" stroke-width="0.4"/><line x1="489.1" y1="272.7" x2="488.9" y2="289.0" stroke="#d6d6d6" stroke-width="0.4"/><line x1="488.9" y1="289.0" x2="500.9" y2="285.4" stroke="#d6d6d6" stroke-width="0.4"/><line x1="488.9" y1="289.0" x2="489.0" y2="297.2" stroke="#d6d6d6" stroke-width="0.4"/><line x1="489.0" y1="297.2" x2="496.3" y2="300.1" stroke="#d6d6d6" stroke-width="0.4"/><line x1="483.2" y1="308.7" x2="483.0" y2="321.0" stroke="#d6d6d6" stroke-width="0.4"/><line x1="483.0" y1="321.0" x2="502.7" y2="322.4" stroke="#d6d6d6" stroke-width="0.4"/><line x1="486.4" y1="338.4" x2="498.1" y2="338.7" stroke="#d6d6d6" stroke-width="0.4"/><line x1="486.4" y1="338.4" x2="488.1" y2="348.0" stroke="#d6d6d6" stroke-width="0.4"/><line x1="488.1" y1="348.0" x2="500.7" y2="345.8" stroke="#d6d6d6" stroke-width="0.4"/><line x1="495.6" y1="261.7" x2="502.2" y2="275.1" stroke="#d6d6d6" stroke-width="0.4"/><line x1="502.2" y1="275.1" x2="500.9" y2="285.4" stroke="#d6d6d6" stroke-width="0.4"/><line x1="500.9" y1="285.4" x2="516.2" y2="286.7" stroke="#d6d6d6" stroke-width="0.4"/><line x1="500.9" y1="285.4" x2="496.3" y2="300.1" stroke="#d6d6d6" stroke-width="0.4"/><line x1="496.3" y1="300.1" x2="511.2" y2="298.4" stroke="#d6d6d6" stroke-width="0.4"/><line x1="496.3" y1="300.1" x2="497.6" y2="312.7" stroke="#d6d6d6" stroke-width="0.4"/><line x1="497.6" y1="312.7" x2="509.4" y2="307.2" stroke="#d6d6d6" stroke-width="0.4"/><line x1="497.6" y1="312.7" x2="502.7" y2="322.4" stroke="#d6d6d6" stroke-width="0.4"/><line x1="502.7" y1="322.4" x2="498.1" y2="338.7" stroke="#d6d6d6" stroke-width="0.4"/><line x1="498.1" y1="338.7" x2="512.6" y2="338.6" stroke="#d6d6d6" stroke-width="0.4"/><line x1="498.1" y1="338.7" x2="500.7" y2="345.8" stroke="#d6d6d6" stroke-width="0.4"/><line x1="500.7" y1="345.8" x2="511.9" y2="350.7" stroke="#d6d6d6" stroke-width="0.4"/><line x1="509.4" y1="245.7" x2="528.5" y2="246.1" stroke="#d6d6d6" stroke-width="0.4"/><line x1="509.4" y1="245.7" x2="515.6" y2="262.7" stroke="#d6d6d6" stroke-width="0.4"/><line x1="515.6" y1="262.7" x2="523.9" y2="259.2" stroke="#d6d6d6" stroke-width="0.4"/><line x1="515.6" y1="262.7" x2="509.6" y2="275.4" stroke="#d6d6d6" stroke-width="0.4"/><line x1="509.6" y1="275.4" x2="523.8" y2="273.7" stroke="#d6d6d6" stroke-width="0.4"/><line x1="509.6" y1="275.4" x2="516.2" y2="286.7" stroke="#d6d6d6" stroke-width="0.4"/><line x1="516.2" y1="286.7" x2="524.0" y2="285.0" stroke="#d6d6d6" stroke-width="0.4"/><line x1="516.2" y1="286.7" x2="511.2" y2="298.4" stroke="#d6d6d6" stroke-width="0.4"/><line x1="511.2" y1="298.4" x2="522.9" y2="301.0" stroke="#d6d6d6" stroke-width="0.4"/><line x1="511.2" y1="298.4" x2="509.4" y2="307.2" stroke="#d6d6d6" stroke-width="0.4"/><line x1="509.4" y1="307.2" x2="524.7" y2="310.3" stroke="#d6d6d6" stroke-width="0.4"/><line x1="509.4" y1="307.2" x2="516.2" y2="324.1" stroke="#d6d6d6" stroke-width="0.4"/><line x1="516.2" y1="324.1" x2="526.6" y2="325.9" stroke="#d6d6d6" stroke-width="0.4"/><line x1="516.2" y1="324.1" x2="512.6" y2="338.6" stroke="#d6d6d6" stroke-width="0.4"/><line x1="512.6" y1="338.6" x2="525.3" y2="338.5" stroke="#d6d6d6" stroke-width="0.4"/><line x1="511.9" y1="350.7" x2="525.9" y2="348.3" stroke="#d6d6d6" stroke-width="0.4"/><line x1="528.5" y1="246.1" x2="539.6" y2="244.7" stroke="#d6d6d6" stroke-width="0.4"/><line x1="528.5" y1="246.1" x2="523.9" y2="259.2" stroke="#d6d6d6" stroke-width="0.4"/><line x1="523.9" y1="259.2" x2="538.9" y2="258.4" stroke="#d6d6d6" stroke-width="0.4"/><line x1="523.9" y1="259.2" x2="523.8" y2="273.7" stroke="#d6d6d6" stroke-width="0.4"/><line x1="523.8" y1="273.7" x2="535.4" y2="275.2" stroke="#d6d6d6" stroke-width="0.4"/><line x1="523.8" y1="273.7" x2="524.0" y2="285.0" stroke="#d6d6d6" stroke-width="0.4"/><line x1="524.0" y1="285.0" x2="536.8" y2="285.4" stroke="#d6d6d6" stroke-width="0.4"/><line x1="524.0" y1="285.0" x2="522.9" y2="301.0" stroke="#d6d6d6" stroke-width="0.4"/><line x1="522.9" y1="301.0" x2="541.2" y2="298.5" stroke="#d6d6d6" stroke-width="0.4"/><line x1="522.9" y1="301.0" x2="524.7" y2="310.3" stroke="#d6d6d6" stroke-width="0.4"/><line x1="524.7" y1="310.3" x2="538.0" y2="310.7" stroke="#d6d6d6" stroke-width="0.4"/><line x1="524.7" y1="310.3" x2="526.6" y2="325.9" stroke="#d6d6d6" stroke-width="0.4"/><line x1="526.6" y1="325.9" x2="539.8" y2="325.1" stroke="#d6d6d6" stroke-width="0.4"/><line x1="526.6" y1="325.9" x2="525.3" y2="338.5" stroke="#d6d6d6" stroke-width="0.4"/><line x1="525.3" y1="338.5" x2="536.2" y2="336.0" stroke="#d6d6d6" stroke-width="0.4"/><line x1="525.3" y1="338.5" x2="525.9" y2="348.3" stroke="#d6d6d6" stroke-width="0.4"/><line x1="525.9" y1="348.3" x2="537.4" y2="346.5" stroke="#d6d6d6" stroke-width="0.4"/><line x1="539.6" y1="244.7" x2="538.9" y2="258.4" stroke="#d6d6d6" stroke-width="0.4"/><line x1="538.9" y1="258.4" x2="535.4" y2="275.2" stroke="#d6d6d6" stroke-width="0.4"/><line x1="535.4" y1="275.2" x2="536.8" y2="285.4" stroke="#d6d6d6" stroke-width="0.4"/><line x1="536.8" y1="285.4" x2="541.2" y2="298.5" stroke="#d6d6d6" stroke-width="0.4"/><line x1="541.2" y1="298.5" x2="538.0" y2="310.7" stroke="#d6d6d6" stroke-width="0.4"/><line x1="538.0" y1="310.7" x2="539.8" y2="325.1" stroke="#d6d6d6" stroke-width="0.4"/><line x1="536.2" y1="336.0" x2="537.4" y2="346.5" stroke="#d6d6d6" stroke-width="0.4"/><polyline points="346,262 380,258 400,265" fill="none" stroke="#cfcfcf" stroke-width="0.5"/><polyline points="355,245 372,275 365,300" fill="none" stroke="#cfcfcf" stroke-width="0.5"/><polyline points="365,300 380,339 380,339" fill="none" stroke="#cfcfcf" stroke-width="0.5"/><polyline points="390,245 398,290 420,310" fill="none" stroke="#cfcfcf" stroke-width="0.5"/><polyline points="470,245 468,300 466,312" fill="none" stroke="#cfcfcf" stroke-width="0.5"/><polyline points="440,262 490,262 536,264" fill="none" stroke="#cfcfcf" stroke-width="0.5"/><polyline points="350,320 380,325 410,328" fill="none" stroke="#cfcfcf" stroke-width="0.5"/><polyline points="480,300 510,300 536,302" fill="none" stroke="#cfcfcf" stroke-width="0.5"/><path d="M527,246 C524,256 530,266 526,276 C523,286 528,292 524,300" fill="none" stroke="#b9dcf0" stroke-width="0.6"/><path d="M500,246 C503,256 497,266 501,280 C504,290 510,296 515,298" fill="none" stroke="#c5e1f2" stroke-width="0.5"/><path d="M459.2,338.8 L459.2,324 L462.3,314.7 L466,310.5 L473.9,307.8 L477,309.4 L474.4,314.7 L472.8,322 L471.8,325.2 L480.2,324.1 L487.5,323 L498,319.9 L508.5,316.8 L519,313.6 L529.5,312 L536.2,310.8 L536.2,338.8 Z" fill="#b0d8ef"/><path d="M471.8,335.7 L483.3,326.2" stroke="#e8f2f8" stroke-width="0.7"/><path d="M447.7,245.7 L452.2,248 L456,252.5 L458.2,257 L456.7,259.2 L453.7,257 L450.7,253.2 L448.5,249.5 Z" fill="#b0d8ef"/><path d="M426.5,266 L428.5,267 L430.5,273.5 L429,274.5 L427,270 Z" fill="#b0d8ef"/><path d="M515,297 L519,295.5 L523,297.5 L524,302 L521,305.5 L517,304 Z" fill="#b0d8ef"/><path d="M501.5,245.3 L504,245.3 L503.5,248.5 L502,248.5 Z" fill="#b0d8ef"/><path d="M369,279 L374,278 L375,281 L370,282 Z" fill="#b0d8ef"/><circle cx="426.7" cy="291.1" r="40" fill="rgba(155,203,230,0.40)" stroke="#86bdd8" stroke-width="0.6"/><path d="M409.2,288.1 L424.5,290.3 L430.6,290.3 L433.7,291.3 L440.9,291.9 L444.9,293.4 L448,292.4 L453.1,287.8 L455.2,292.4 L457.2,298.5 L459.2,303.6 L461.3,306.7 L460.3,311.8 L458.2,315.9 L455.2,319.9 L451.1,322 L444.9,321.5 L438.8,320 L430.6,317.9 L424.5,315.9 L420.4,312.8 L416.3,307.7 L414.3,302.6 L412.3,295.4 Z" fill="rgba(190,155,172,0.58)"/><path d="M461.3,306.7 L463.3,309.7 L462.3,313.6 L459.2,320 L455.2,326 L450,326.5 L451.1,322 L455.2,319.9 L458.2,315.9 L460.3,311.8 Z" fill="rgba(240,185,190,0.7)"/><path d="M427,290.6 C425.4,287.8 424.7,286.8 424.7,285.5 A2.3,2.3 0 1 1 429.3,285.5 C429.3,286.8 428.6,287.8 427,290.6 Z" fill="#d42a2f"/><circle cx="427" cy="285.5" r="0.8" fill="#fff"/><rect x="352" y="246.8" width="6" height="1" fill="#b0b0b0"/><rect x="370" y="253.1" width="6" height="1" fill="#b0b0b0"/><rect x="366" y="264.0" width="7" height="1" fill="#b0b0b0"/><rect x="358" y="277.5" width="5" height="1" fill="#b0b0b0"/><rect x="380" y="282.9" width="8" height="1" fill="#b0b0b0"/><rect x="356" y="305.3" width="6" height="1" fill="#b0b0b0"/><rect x="376" y="320.7" width="7" height="1" fill="#b0b0b0"/><rect x="355" y="335.5" width="5" height="1" fill="#b0b0b0"/><rect x="393" y="256.4" width="6" height="1" fill="#b0b0b0"/><rect x="405" y="277.1" width="8" height="1" fill="#b0b0b0"/><rect x="394" y="306.7" width="5" height="1" fill="#b0b0b0"/><rect x="406" y="318.3" width="6" height="1" fill="#b0b0b0"/><rect x="392" y="330.5" width="6" height="1" fill="#b0b0b0"/><rect x="431" y="248.5" width="6" height="1" fill="#b0b0b0"/><rect x="444" y="259.0" width="7" height="1" fill="#b0b0b0"/><rect x="461" y="247.5" width="5" height="1" fill="#b0b0b0"/><rect x="489" y="249.0" width="5" height="1" fill="#b0b0b0"/><rect x="511" y="254.1" width="5" height="1" fill="#b0b0b0"/><rect x="519" y="252.9" width="6" height="1" fill="#b0b0b0"/><rect x="488" y="279.8" width="6" height="1" fill="#b0b0b0"/><rect x="443" y="281.5" width="4" height="1" fill="#b0b0b0"/><rect x="454" y="282.5" width="4" height="1" fill="#b0b0b0"/><rect x="519" y="293.5" width="5" height="1" fill="#b0b0b0"/><rect x="504" y="304.0" width="6" height="1" fill="#b0b0b0"/><rect x="482" y="314.3" width="6" height="1" fill="#b0b0b0"/><rect x="453" y="337.5" width="6" height="1" fill="#b0b0b0"/><rect x="478" y="310.5" width="5" height="1" fill="#b0b0b0"/><rect x="435" y="308.8" width="5" height="1" fill="#b0b0b0"/><rect x="442" y="312.1" width="6" height="1" fill="#b0b0b0"/><rect x="430" y="320.3" width="6" height="1" fill="#b0b0b0"/></svg><div class="t" style="left:375.00px;top:23.31px;font-size:10px;color:#333;font-weight:bold;transform:scale(0.4486,0.4400);transform-origin:0 0;">Show Data For:</div><div class="ab" style="left:375px;top:29.30000000000001px;width:51px;height:0.6px;background:#e0e0e0"></div><div class="ab" style="left:375px;top:39px;width:51px;height:0.6px;background:#e0e0e0"></div><div class="ab" style="left:375px;top:49.099999999999994px;width:51px;height:0.6px;background:#e0e0e0"></div><div class="ab" style="left:375px;top:59.30000000000001px;width:51px;height:0.6px;background:#e0e0e0"></div><div class="ab" style="left:375px;top:32.69999999999999px;width:3.8px;height:3.8px;background:#3d6fc0;border-radius:0.5px"></div><svg class="ab" style="left:375px;top:32.69999999999999px" width="3.8" height="3.8" viewBox="0 0 10 10"><path d="M2.2,5.2 L4.2,7.2 L7.9,2.8" fill="none" stroke="#fff" stroke-width="1.6"/></svg><div class="t" style="left:381.90px;top:32.71px;font-size:10px;color:#333;transform:scale(0.5142,0.5650);transform-origin:0 0;">COMPANIES</div><div class="ab" style="left:375px;top:42.79999999999998px;width:3.8px;height:3.8px;background:#3d6fc0;border-radius:0.5px"></div><svg class="ab" style="left:375px;top:42.79999999999998px" width="3.8" height="3.8" viewBox="0 0 10 10"><path d="M2.2,5.2 L4.2,7.2 L7.9,2.8" fill="none" stroke="#fff" stroke-width="1.6"/></svg><div class="t" style="left:381.90px;top:42.81px;font-size:10px;color:#333;transform:scale(0.5142,0.5650);transform-origin:0 0;">SKILLED LABOR</div><div class="ab" style="left:375px;top:53.099999999999994px;width:3.8px;height:3.8px;background:#3d6fc0;border-radius:0.5px"></div><svg class="ab" style="left:375px;top:53.099999999999994px" width="3.8" height="3.8" viewBox="0 0 10 10"><path d="M2.2,5.2 L4.2,7.2 L7.9,2.8" fill="none" stroke="#fff" stroke-width="1.6"/></svg><div class="t" style="left:381.90px;top:53.11px;font-size:10px;color:#333;transform:scale(0.5142,0.5650);transform-origin:0 0;">EDUCATION</div><div class="ab" style="left:318.20000000000005px;top:47.599999999999994px;width:46.6px;height:11.3px;background:#d3262d"></div><div class="t" style="left:322.10px;top:51.88px;font-size:10px;color:#fbe4e4;transform:scale(0.3826,0.4300);transform-origin:0 0;">Download Data (.CSV)</div><div class="ab" style="left:319px;top:67px;width:135.4px;height:80.6px;background:#fff;border-radius:2px;box-shadow:0 0.5px 2px rgba(0,0,0,.18),0 0 0.5px rgba(0,0,0,.12)"></div><div class="t" style="left:327.40px;top:77.93px;font-size:10px;color:#c52a32;font-weight:bold;transform:scale(0.4599,0.4700);transform-origin:0 0;">Workforce in Labor Shed</div><svg class="ab" style="left:0;top:0" width="480" height="384.70000000000005" viewBox="318 202 480 384.70000000000005"><g fill="#aac5e2"><circle cx="683.00" cy="293.99" r="0.39"/><path d="M682.40,295.86 V294.67 Q682.40,294.48 682.59,294.48 H683.41 Q683.60,294.48 683.60,294.67 V295.86 Z"/><rect x="682.49" y="295.36" width="0.45" height="2.14"/><rect x="683.06" y="295.36" width="0.45" height="2.14"/><circle cx="690.00" cy="294.20" r="0.40"/><path d="M689.38,296.12 V294.90 Q689.38,294.70 689.58,294.70 H690.42 Q690.62,294.70 690.62,294.90 V296.12 Z"/><rect x="689.48" y="295.62" width="0.46" height="2.18"/><rect x="690.06" y="295.62" width="0.46" height="2.18"/><circle cx="697.00" cy="293.99" r="0.39"/><path d="M696.40,295.86 V294.67 Q696.40,294.48 696.59,294.48 H697.41 Q697.60,294.48 697.60,294.67 V295.86 Z"/><rect x="696.49" y="295.36" width="0.45" height="2.14"/><rect x="697.06" y="295.36" width="0.45" height="2.14"/><circle cx="713.00" cy="294.20" r="0.40"/><path d="M712.38,296.12 V294.90 Q712.38,294.70 712.58,294.70 H713.42 Q713.62,294.70 713.62,294.90 V296.12 Z"/><rect x="712.48" y="295.62" width="0.46" height="2.18"/><rect x="713.06" y="295.62" width="0.46" height="2.18"/><circle cx="729.50" cy="293.87" r="0.37"/><path d="M728.93,295.65 V294.52 Q728.93,294.33 729.11,294.33 H729.89 Q730.07,294.33 730.07,294.52 V295.65 Z"/><rect x="729.02" y="295.15" width="0.43" height="2.05"/><rect x="729.56" y="295.15" width="0.43" height="2.05"/><circle cx="684.90" cy="297.85" r="0.85"/><path d="M683.58,301.93 V299.34 Q683.58,298.91 684.01,298.91 H685.79 Q686.22,298.91 686.22,299.34 V301.93 Z"/><rect x="683.79" y="301.43" width="0.98" height="4.07"/><rect x="685.03" y="301.43" width="0.98" height="4.07"/><circle cx="699.30" cy="297.85" r="0.85"/><path d="M697.98,301.93 V299.34 Q697.98,298.91 698.41,298.91 H700.19 Q700.62,298.91 700.62,299.34 V301.93 Z"/><rect x="698.19" y="301.43" width="0.98" height="4.07"/><rect x="699.43" y="301.43" width="0.98" height="4.07"/><circle cx="707.60" cy="295.85" r="0.85"/><path d="M706.28,299.93 V297.34 Q706.28,296.91 706.71,296.91 H708.49 Q708.92,296.91 708.92,297.34 V299.93 Z"/><rect x="706.50" y="299.43" width="0.98" height="4.07"/><rect x="707.73" y="299.43" width="0.98" height="4.07"/><circle cx="718.10" cy="295.15" r="1.15"/><path d="M716.32,300.67 V297.16 Q716.32,296.59 716.89,296.59 H719.31 Q719.88,296.59 719.88,297.16 V300.67 Z"/><rect x="716.61" y="300.17" width="1.32" height="5.33"/><rect x="718.27" y="300.17" width="1.32" height="5.33"/><circle cx="693.60" cy="297.25" r="1.25"/><path d="M691.66,303.25 V299.44 Q691.66,298.81 692.29,298.81 H694.91 Q695.54,298.81 695.54,299.44 V303.25 Z"/><rect x="691.98" y="302.75" width="1.44" height="5.75"/><rect x="693.79" y="302.75" width="1.44" height="5.75"/><circle cx="724.20" cy="296.66" r="1.26"/><path d="M722.25,302.71 V298.86 Q722.25,298.23 722.88,298.23 H725.52 Q726.15,298.23 726.15,298.86 V302.71 Z"/><rect x="722.56" y="302.21" width="1.45" height="5.79"/><rect x="724.39" y="302.21" width="1.45" height="5.79"/><circle cx="681.40" cy="300.64" r="1.24"/><path d="M679.48,306.59 V302.81 Q679.48,302.19 680.10,302.19 H682.70 Q683.32,302.19 683.32,302.81 V306.59 Z"/><rect x="679.79" y="306.09" width="1.43" height="5.71"/><rect x="681.59" y="306.09" width="1.43" height="5.71"/><circle cx="712.00" cy="300.50" r="1.50"/><path d="M709.67,307.70 V303.12 Q709.67,302.38 710.42,302.38 H713.58 Q714.33,302.38 714.33,303.12 V307.70 Z"/><rect x="710.05" y="307.20" width="1.73" height="6.80"/><rect x="712.23" y="307.20" width="1.73" height="6.80"/><circle cx="719.00" cy="303.86" r="1.46"/><path d="M716.74,310.87 V306.42 Q716.74,305.69 717.47,305.69 H720.53 Q721.26,305.69 721.26,306.42 V310.87 Z"/><rect x="717.10" y="310.37" width="1.68" height="6.63"/><rect x="719.22" y="310.37" width="1.68" height="6.63"/><circle cx="688.80" cy="302.60" r="1.60"/><path d="M686.32,310.28 V305.40 Q686.32,304.60 687.12,304.60 H690.48 Q691.28,304.60 691.28,305.40 V310.28 Z"/><rect x="686.72" y="309.78" width="1.84" height="7.22"/><rect x="689.04" y="309.78" width="1.84" height="7.22"/><circle cx="702.80" cy="300.51" r="2.01"/><path d="M699.68,310.16 V304.03 Q699.68,303.02 700.69,303.02 H704.91 Q705.92,303.02 705.92,304.03 V310.16 Z"/><rect x="700.19" y="309.66" width="2.31" height="8.94"/><rect x="703.10" y="309.66" width="2.31" height="8.94"/></g></svg><div class="t" style="left:357.90px;top:124.59px;font-size:12.7px;color:#2a2a2a;transform:scaleX(1.0072);transform-origin:0 0;">2,660,694</div><div class="ab" style="left:27.399999999999977px;top:155.5px;width:427.1px;height:78.3px;background:#fff;border-radius:2px;box-shadow:0 0.5px 2px rgba(0,0,0,.18),0 0 0.5px rgba(0,0,0,.12)"></div><div class="t" style="left:200.90px;top:166.32px;font-size:10px;color:#cc2e38;font-weight:bold;transform:scale(0.6913,0.6700);transform-origin:0 0;">HIGH TECH COMPANIES</div><div class="ab" style="left:207.39999999999998px;top:179.8px;width:68.8px;height:0.6px;background:#cfcfcf"></div><svg class="ab" style="left:0;top:0" width="480" height="384.70000000000005" viewBox="318 202 480 384.70000000000005"><circle cx="768.3" cy="369.6" r="0.55" fill="#666"/><circle cx="768.3" cy="371.5" r="0.55" fill="#666"/><circle cx="768.3" cy="373.40000000000003" r="0.55" fill="#666"/></svg><div class="t" style="left:77.18px;top:193.87px;font-size:10.1px;color:#222;-webkit-text-stroke:0.3px #222;">141% More</div><div class="t" style="left:54.80px;top:206.44px;font-size:10px;color:#888;transform:scale(0.4600,0.4600);transform-origin:0 0;">Research and Development in Nanotechnology</div><div class="t" style="left:77.05px;top:213.58px;font-size:10px;color:#222;transform:scale(0.4309,0.4300);transform-origin:0 0;-webkit-text-stroke:0.15px #222;">than U.S. National Average</div><div class="t" style="left:218.49px;top:193.87px;font-size:10.1px;color:#222;-webkit-text-stroke:0.3px #222;">79% More</div><div class="t" style="left:198.94px;top:206.44px;font-size:10px;color:#888;transform:scale(0.4600,0.4600);transform-origin:0 0;">Custom Computer Programming Services</div><div class="t" style="left:215.55px;top:213.58px;font-size:10px;color:#222;transform:scale(0.4309,0.4300);transform-origin:0 0;-webkit-text-stroke:0.15px #222;">than U.S. National Average</div><div class="t" style="left:356.99px;top:193.87px;font-size:10.1px;color:#222;-webkit-text-stroke:0.3px #222;">76% More</div><div class="t" style="left:343.19px;top:206.44px;font-size:10px;color:#888;transform:scale(0.4600,0.4600);transform-origin:0 0;">Computer Systems Design Services</div><div class="t" style="left:354.05px;top:213.58px;font-size:10px;color:#222;transform:scale(0.4309,0.4300);transform-origin:0 0;-webkit-text-stroke:0.15px #222;">than U.S. National Average</div><div class="ab" style="left:29px;top:241.39999999999998px;width:244.8px;height:134.6px;background:#fff;border-radius:2px;box-shadow:0 0.5px 2px rgba(0,0,0,.18),0 0 0.5px rgba(0,0,0,.12)"></div><div class="ab" style="left:282.29999999999995px;top:242px;width:172.3px;height:133.8px;background:#fff;border-radius:2px;box-shadow:0 0.5px 2px rgba(0,0,0,.18),0 0 0.5px rgba(0,0,0,.12)"></div><svg class="ab" style="left:0;top:0" width="480" height="384.70000000000005" viewBox="318 202 480 384.70000000000005"><circle cx="590.9" cy="446.2" r="0.45" fill="#bbb"/><circle cx="590.9" cy="447.8" r="0.45" fill="#bbb"/><circle cx="590.9" cy="449.4" r="0.45" fill="#bbb"/></svg><svg class="ab" style="left:0;top:0" width="480" height="384.70000000000005" viewBox="318 202 480 384.70000000000005"><circle cx="769.2" cy="446.8" r="0.45" fill="#bbb"/><circle cx="769.2" cy="448.40000000000003" r="0.45" fill="#bbb"/><circle cx="769.2" cy="450.0" r="0.45" fill="#bbb"/></svg><div class="t" style="left:37.20px;top:252.71px;font-size:10px;color:#c52a32;font-weight:bold;transform:scale(0.4655,0.4650);transform-origin:0 0;">HIGH TECH</div><div class="t" style="left:37.20px;top:258.51px;font-size:10px;color:#c52a32;font-weight:bold;transform:scale(0.4642,0.4650);transform-origin:0 0;">Companies in Our Labor Shed</div><div class="t" style="left:37.20px;top:273.07px;font-size:10px;color:#555;transform:scale(0.4526,0.4550);transform-origin:0 0;">8 High Tech-related NAICS categories are represented</div><div class="t" style="left:37.20px;top:279.47px;font-size:10px;color:#555;transform:scale(0.4624,0.4550);transform-origin:0 0;">in the Tomball labor shed.</div><div class="t" style="left:290.90px;top:252.71px;font-size:10px;color:#c52a32;font-weight:bold;transform:scale(0.4655,0.4650);transform-origin:0 0;">HIGH TECH</div><div class="t" style="left:290.90px;top:258.51px;font-size:10px;color:#c52a32;font-weight:bold;transform:scale(0.4684,0.4650);transform-origin:0 0;">Companies vs US Average</div><svg class="ab" style="left:0;top:0" width="480" height="384.70000000000005" viewBox="318 202 480 384.70000000000005"><line x1="444.10" y1="498.4" x2="444.10" y2="554.5" stroke="#ebebeb" stroke-width="0.5"/><line x1="460.16" y1="498.4" x2="460.16" y2="554.5" stroke="#ebebeb" stroke-width="0.5"/><line x1="476.23" y1="498.4" x2="476.23" y2="554.5" stroke="#ebebeb" stroke-width="0.5"/><line x1="492.29" y1="498.4" x2="492.29" y2="554.5" stroke="#ebebeb" stroke-width="0.5"/><line x1="508.35" y1="498.4" x2="508.35" y2="554.5" stroke="#ebebeb" stroke-width="0.5"/><line x1="524.41" y1="498.4" x2="524.41" y2="554.5" stroke="#ebebeb" stroke-width="0.5"/><line x1="540.48" y1="498.4" x2="540.48" y2="554.5" stroke="#ebebeb" stroke-width="0.5"/><line x1="556.54" y1="498.4" x2="556.54" y2="554.5" stroke="#ebebeb" stroke-width="0.5"/><line x1="572.60" y1="498.4" x2="572.60" y2="554.5" stroke="#ebebeb" stroke-width="0.5"/><line x1="444.1" y1="498.40" x2="572.6" y2="498.40" stroke="#ebebeb" stroke-width="0.5"/><line x1="444.1" y1="509.32" x2="572.6" y2="509.32" stroke="#ebebeb" stroke-width="0.5"/><line x1="444.1" y1="520.24" x2="572.6" y2="520.24" stroke="#ebebeb" stroke-width="0.5"/><line x1="444.1" y1="531.16" x2="572.6" y2="531.16" stroke="#ebebeb" stroke-width="0.5"/><line x1="444.1" y1="542.08" x2="572.6" y2="542.08" stroke="#ebebeb" stroke-width="0.5"/><line x1="444.1" y1="553.00" x2="572.6" y2="553.00" stroke="#ebebeb" stroke-width="0.5"/><rect x="444.1" y="500.6" width="120.15" height="7.4" fill="#d3262d"/><rect x="444.1" y="511.6" width="90.91" height="7.4" fill="#d3262d"/><rect x="444.1" y="522.6" width="12.08" height="7.4" fill="#d3262d"/><rect x="444.1" y="533.8" width="7.07" height="7.4" fill="#d3262d"/><rect x="444.1" y="544.7" width="3.02" height="7.4" fill="#d3262d"/><line x1="620.1" y1="483.4" x2="620.1" y2="539.5" stroke="#e6e6e6" stroke-width="0.5"/><line x1="646.4" y1="483.4" x2="646.4" y2="539.5" stroke="#e6e6e6" stroke-width="0.5"/><line x1="672.7" y1="483.4" x2="672.7" y2="539.5" stroke="#e6e6e6" stroke-width="0.5"/><line x1="698.5" y1="483.4" x2="698.5" y2="539.5" stroke="#e6e6e6" stroke-width="0.5"/><line x1="724.8" y1="483.4" x2="724.8" y2="539.5" stroke="#e6e6e6" stroke-width="0.5"/><line x1="751.5" y1="483.4" x2="751.5" y2="539.5" stroke="#e6e6e6" stroke-width="0.5"/><line x1="620.1" y1="483.40" x2="751.5" y2="483.40" stroke="#e6e6e6" stroke-width="0.5"/><line x1="620.1" y1="492.65" x2="751.5" y2="492.65" stroke="#e6e6e6" stroke-width="0.5"/><line x1="620.1" y1="501.90" x2="751.5" y2="501.90" stroke="#e6e6e6" stroke-width="0.5"/><line x1="620.1" y1="511.15" x2="751.5" y2="511.15" stroke="#e6e6e6" stroke-width="0.5"/><line x1="620.1" y1="520.40" x2="751.5" y2="520.40" stroke="#e6e6e6" stroke-width="0.5"/><line x1="620.1" y1="529.65" x2="751.5" y2="529.65" stroke="#e6e6e6" stroke-width="0.5"/><line x1="620.1" y1="538.90" x2="751.5" y2="538.90" stroke="#e6e6e6" stroke-width="0.5"/><rect x="629.7" y="516.9" width="7.9" height="22.00" fill="#d3262d"/><rect x="655.5" y="514.5" width="7.9" height="24.40" fill="#d3262d"/><rect x="681.5" y="511.1" width="7.9" height="27.80" fill="#d3262d"/><rect x="707.6" y="509.7" width="7.9" height="29.20" fill="#d3262d"/><rect x="733.9" y="487.2" width="7.9" height="51.70" fill="#d3262d"/></svg><div class="t" style="left:66.68px;top:302.11px;font-size:10px;color:#555;transform:scale(0.3500,0.3500);transform-origin:0 0;">Computer Systems Design Services</div><div class="t" style="left:57.93px;top:313.11px;font-size:10px;color:#555;transform:scale(0.3500,0.3500);transform-origin:0 0;">Custom Computer Programming Services</div><div class="t" style="left:54.81px;top:319.51px;font-size:10px;color:#555;transform:scale(0.3500,0.3500);transform-origin:0 0;">Research and Development in the Physical,</div><div class="t" style="left:62.00px;top:323.91px;font-size:10px;color:#555;transform:scale(0.3500,0.3500);transform-origin:0 0;">Engineering, and Life Sciences (except</div><div class="t" style="left:66.47px;top:328.41px;font-size:10px;color:#555;transform:scale(0.3500,0.3500);transform-origin:0 0;">Nanotechnology and Biotechnology)</div><div class="t" style="left:52.66px;top:332.81px;font-size:10px;color:#555;transform:scale(0.3500,0.3500);transform-origin:0 0;">Research and Development in Biotechnology</div><div class="t" style="left:79.12px;top:337.21px;font-size:10px;color:#555;transform:scale(0.3500,0.3500);transform-origin:0 0;">(except Nanobiotechnology)</div><div class="t" style="left:70.18px;top:345.81px;font-size:10px;color:#555;transform:scale(0.3500,0.3500);transform-origin:0 0;">Other Computer Related Services</div><div class="t" style="left:125.21px;top:353.97px;font-size:10px;color:#aaa;transform:scale(0.3200,0.3200);transform-origin:0 0;">0</div><div class="t" style="left:139.49px;top:353.97px;font-size:10px;color:#aaa;transform:scale(0.3200,0.3200);transform-origin:0 0;">250</div><div class="t" style="left:155.56px;top:353.97px;font-size:10px;color:#aaa;transform:scale(0.3200,0.3200);transform-origin:0 0;">500</div><div class="t" style="left:171.62px;top:353.97px;font-size:10px;color:#aaa;transform:scale(0.3200,0.3200);transform-origin:0 0;">750</div><div class="t" style="left:186.79px;top:353.97px;font-size:10px;color:#aaa;transform:scale(0.3200,0.3200);transform-origin:0 0;">1000</div><div class="t" style="left:202.85px;top:353.97px;font-size:10px;color:#aaa;transform:scale(0.3200,0.3200);transform-origin:0 0;">1250</div><div class="t" style="left:218.92px;top:353.97px;font-size:10px;color:#aaa;transform:scale(0.3200,0.3200);transform-origin:0 0;">1500</div><div class="t" style="left:234.98px;top:353.97px;font-size:10px;color:#aaa;transform:scale(0.3200,0.3200);transform-origin:0 0;">1750</div><div class="t" style="left:251.04px;top:353.97px;font-size:10px;color:#aaa;transform:scale(0.3200,0.3200);transform-origin:0 0;">2000</div><div class="t" style="left:310.36px;top:339.67px;font-size:10px;color:#aaa;transform:scale(0.3200,0.3200);transform-origin:0 0;">541330</div><div class="t" style="left:336.16px;top:339.67px;font-size:10px;color:#aaa;transform:scale(0.3200,0.3200);transform-origin:0 0;">541715</div><div class="t" style="left:362.16px;top:339.67px;font-size:10px;color:#aaa;transform:scale(0.3200,0.3200);transform-origin:0 0;">541512</div><div class="t" style="left:388.38px;top:339.67px;font-size:10px;color:#aaa;transform:scale(0.3200,0.3200);transform-origin:0 0;">541511</div><div class="t" style="left:414.56px;top:339.67px;font-size:10px;color:#aaa;transform:scale(0.3200,0.3200);transform-origin:0 0;">541712</div></div><div class="ab" style="left:798px;top:196px;width:2px;height:390.70000000000005px;background:#fff"></div></body></html>
